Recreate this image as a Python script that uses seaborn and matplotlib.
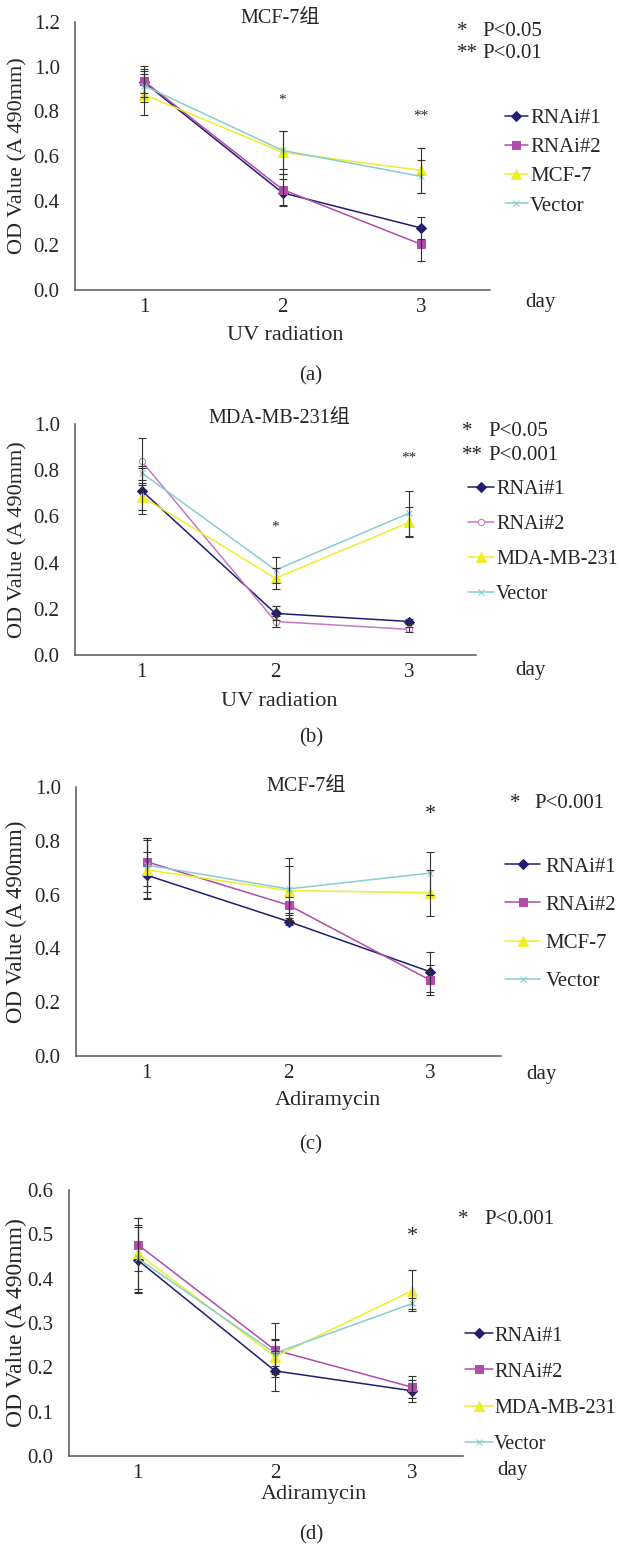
import matplotlib
matplotlib.use("Agg")
import matplotlib.pyplot as plt
import seaborn as sns
import pandas as pd

# days on the x axis
days = [1, 2, 3]
groups_mcf = ["RNAi#1", "RNAi#2", "MCF-7", "Vector"]
groups_mda = ["RNAi#1", "RNAi#2", "MDA-MB-231", "Vector"]

# (a) UV radiation, MCF-7
a_rnai1 = [0.93, 0.435, 0.278]
a_rnai2 = [0.935, 0.45, 0.205]
a_ctrl = [0.875, 0.617, 0.536]
a_vector = [0.915, 0.625, 0.509]
a_rnai1_err = [0.05, 0.06, 0.05]
a_rnai2_err = [0.07, 0.07, 0.075]
a_ctrl_err = [0.09, 0.097, 0.10]
a_vector_err = [0.075, 0.085, 0.075]

# (b) UV radiation, MDA-MB-231
b_rnai1 = [0.711, 0.18, 0.145]
b_rnai2 = [0.838, 0.145, 0.111]
b_ctrl = [0.686, 0.332, 0.574]
b_vector = [0.788, 0.368, 0.614]
b_rnai1_err = [0.10, 0.03, 0.01]
b_rnai2_err = [0.10, 0.025, 0.01]
b_ctrl_err = [0.06, 0.045, 0.065]
b_vector_err = [0.03, 0.058, 0.097]

# (c) Adiramycin, MCF-7
c_rnai1 = [0.672, 0.50, 0.313]
c_rnai2 = [0.722, 0.561, 0.282]
c_ctrl = [0.692, 0.615, 0.607]
c_vector = [0.71, 0.621, 0.68]
c_rnai1_err = [0.085, 0.012, 0.075]
c_rnai2_err = [0.09, 0.03, 0.055]
c_ctrl_err = [0.11, 0.09, 0.085]
c_vector_err = [0.10, 0.115, 0.08]

# (d) Adiramycin, MDA-MB-231
d_rnai1 = [0.442, 0.192, 0.147]
d_rnai2 = [0.477, 0.239, 0.155]
d_ctrl = [0.457, 0.224, 0.373]
d_vector = [0.446, 0.232, 0.344]
d_rnai1_err = [0.075, 0.045, 0.025]
d_rnai2_err = [0.06, 0.06, 0.025]
d_ctrl_err = [0.08, 0.04, 0.047]
d_vector_err = [0.075, 0.03, 0.012]

sns.set_style("white")
plt.rcParams["font.family"] = ["Liberation Serif", "Noto Sans CJK SC", "DejaVu Sans"]

W, H = 619, 1547
fig = plt.figure(figsize=(W / 100, H / 100), dpi=100)

COLORS = ["#211c70", "#b24ca8", "#eeee2a", "#86cdd0"]
MARKERS = ["D", "s", "^", "x"]
MSIZES = [5, 6, 7, 5]
AXIS_COLOR = "#555555"


def px_axes(left, right, top, bottom):
    # axes rectangle from pixel edges
    return fig.add_axes([left / W, 1 - bottom / H, (right - left) / W, (bottom - top) / H])


def panel(box, groups, values, errors, ylim, ystep, ylab_size=16,
          open_circle=False, xend=None):
    ax = px_axes(*box)
    df = pd.DataFrame({
        "day": days * 4,
        "od": sum(values, []),
        "group": sum([[g] * 3 for g in groups], []),
    })
    sns.lineplot(
        data=df, x="day", y="od", hue="group", hue_order=groups,
        palette=dict(zip(groups, COLORS)), linewidth=1.1, legend=False, ax=ax,
        zorder=2,
    )
    lines = ax.get_lines()[:4]
    for i, ln in enumerate(lines):
        ln.set_marker(MARKERS[i])
        ln.set_markersize(MSIZES[i])
        ln.set_markeredgecolor(COLORS[i])
        ln.set_markerfacecolor(COLORS[i])
    if open_circle:
        lines[1].set_marker("o")
        lines[1].set_markersize(4.5)
        lines[1].set_markerfacecolor("white")
        lines[1].set_color("#c47ac4")
        lines[1].set_markeredgecolor("#c47ac4")

    # error bars
    for vals, errs in zip(values, errors):
        ax.errorbar(days, vals, yerr=errs, fmt="none", ecolor="#333333",
                    elinewidth=0.8, capsize=3, capthick=0.8, zorder=3)

    ax.set_xlim(0.5, 3.5)
    ax.set_ylim(*ylim)
    n = int(round((ylim[1] - ylim[0]) / ystep))
    yt = [ylim[0] + k * ystep for k in range(n + 1)]
    ax.set_yticks(yt)
    ax.set_yticklabels([f"{v:.1f}" for v in yt], fontsize=15)
    ax.set_xticks(days)
    ax.set_xticklabels([str(d) for d in days], fontsize=15)
    end = xend if xend is not None else 3.5
    ax.set_xticks([1.5, 2.5, end], minor=True)
    ax.tick_params(axis="x", which="major", length=0, pad=6)
    ax.tick_params(axis="x", which="minor", direction="in", length=5,
                   color=AXIS_COLOR, width=1)
    ax.tick_params(axis="y", direction="in", length=4, color=AXIS_COLOR,
                   width=1, pad=11)
    for s in ["top", "right"]:
        ax.spines[s].set_visible(False)
    for s in ["left", "bottom"]:
        ax.spines[s].set_color(AXIS_COLOR)
        ax.spines[s].set_linewidth(1.1)
    ax.spines["bottom"].set_bounds(0.5, end)
    ax.set_xlabel("")
    ax.set_ylabel("OD Value (A 490mm)", fontsize=ylab_size)
    left, right = box[0], box[1]
    ax.yaxis.set_label_coords((27 - left) / (right - left), 0.5)
    return ax, lines


def legend(ax, lines, labels, x, y_mid, spacing, hlen, pad=0.1, size=15):
    ax.legend(lines, labels, loc="center left",
              bbox_to_anchor=(x / W, 1 - y_mid / H), bbox_transform=fig.transFigure,
              frameon=False, fontsize=size, borderpad=0, borderaxespad=0,
              handlelength=hlen, handletextpad=pad, labelspacing=spacing,
              numpoints=1)


def ftext(x, y, s, size=15, ha="center", **kw):
    fig.text(x / W, 1 - y / H, s, fontsize=size, ha=ha, va="center", **kw)


# panel (a)
ax, lines = panel((75, 490, 22, 290), groups_mcf,
                  [a_rnai1, a_rnai2, a_ctrl, a_vector],
                  [a_rnai1_err, a_rnai2_err, a_ctrl_err, a_vector_err],
                  (0, 1.2), 0.2, ylab_size=16)
legend(ax, lines, groups_mcf, 505, 162, 0.46, 1.1)
ax.text(2, 0.85, "*", ha="center", va="center", fontsize=11)
ax.text(3, 0.78, "**", ha="center", va="center", fontsize=11)
ftext(280, 19, "MCF-7组", 14.5)
ftext(457, 31, "*", 15, ha="left")
ftext(482, 31, "P<0.05", 15, ha="left")
ftext(457, 54, "**", 15, ha="left")
ftext(482, 54, "P<0.01", 15, ha="left")
ftext(540, 303, "day", 15)
ftext(285, 336, "UV radiation", 16)
ftext(311, 376, "(a)", 15)

# panel (b)
ax, lines = panel((75, 476, 424, 655), groups_mda,
                  [b_rnai1, b_rnai2, b_ctrl, b_vector],
                  [b_rnai1_err, b_rnai2_err, b_ctrl_err, b_vector_err],
                  (0, 1.0), 0.2, ylab_size=16, open_circle=True)
legend(ax, lines, groups_mda, 468, 542, 0.8, 1.3, size=14.5)
ax.text(2, 0.554, "*", ha="center", va="center", fontsize=11)
ax.text(3, 0.853, "**", ha="center", va="center", fontsize=11)
ftext(279, 419, "MDA-MB-231组", 14.5)
ftext(462, 431, "*", 15, ha="left")
ftext(488, 431, "P<0.05", 15, ha="left")
ftext(462, 455, "**", 15, ha="left")
ftext(488, 455, "P<0.001", 15, ha="left")
ftext(530, 670, "day", 15)
ftext(279, 702, "UV radiation", 16)
ftext(311, 738, "(b)", 15)

# panel (c)
ax, lines = panel((76, 501, 787, 1056), groups_mcf,
                  [c_rnai1, c_rnai2, c_ctrl, c_vector],
                  [c_rnai1_err, c_rnai2_err, c_ctrl_err, c_vector_err],
                  (0, 1.0), 0.2, ylab_size=16.5)
legend(ax, lines, groups_mcf, 505, 924, 0.89, 1.7, pad=0.25)
ax.text(3, 0.896, "*", ha="center", va="center", fontsize=16)
ftext(306, 786, "MCF-7组", 14.5)
ftext(510, 803, "*", 15, ha="left")
ftext(534, 803, "P<0.001", 15, ha="left")
ftext(541, 1075, "day", 15)
ftext(328, 1100, "Adiramycin", 16)
ftext(311, 1145, "(c)", 15)

# panel (d)
ax, lines = panel((69, 481, 1190, 1456), groups_mda,
                  [d_rnai1, d_rnai2, d_ctrl, d_vector],
                  [d_rnai1_err, d_rnai2_err, d_ctrl_err, d_vector_err],
                  (0, 0.6), 0.1, ylab_size=17, xend=3.37)
legend(ax, lines, groups_mda, 465, 1390, 0.84, 1.4, pad=0.05, size=14.5)
ax.text(3, 0.494, "*", ha="center", va="center", fontsize=16)
ftext(458, 1219, "*", 15, ha="left")
ftext(484, 1219, "P<0.001", 15, ha="left")
ftext(512, 1470, "day", 15)
ftext(314, 1495, "Adiramycin", 16)
ftext(311, 1535, "(d)", 15)

fig.savefig("out.png", dpi=100, facecolor="white")
